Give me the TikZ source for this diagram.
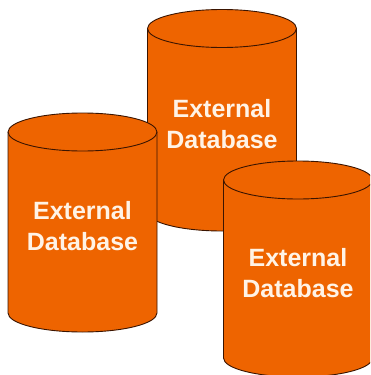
\documentclass[tikz,border=0pt]{standalone}
\usepackage{fontspec}
\setmainfont{Liberation Sans}
\definecolor{dborange}{HTML}{EE6400}
\definecolor{dbedge}{HTML}{3A1400}
\definecolor{dbtext}{HTML}{FFF3E6}
\tikzset{
  x=1pt,y=-1pt,
  dbbody/.style={fill=dborange,draw=dbedge,line width=0.9pt},
  dbrim/.style={draw=dbedge,line width=0.9pt},
  dblabel/.style={text=dbtext,align=center,font=\fontsize{25}{31}\selectfont\bfseries,inner sep=0pt}
}
\newcommand{\dbcyl}[5]{% name, cx, top cy, bottom cy, text y
  \path[dbbody] (#2-74.5,#3) arc[start angle=180,end angle=0,x radius=74.5,y radius=-19]
    -- (#2+74.5,#4) arc[start angle=0,end angle=-180,x radius=74.5,y radius=-19] -- cycle;
  \path[dbrim] (#2-74.5,#3) arc[start angle=180,end angle=360,x radius=74.5,y radius=-19];
  \node[dblabel] (#1) at (#2,#5) {External\\Database};
}
\begin{document}
\begin{tikzpicture}
\useasboundingbox (0,0) rectangle (370,375);
\clip (0,0) rectangle (370,375);
\fill[white] (0,0) rectangle (370,375);
\dbcyl{dbback}{222}{28.5}{212}{124}
\dbcyl{dbleft}{82.5}{132}{313}{226}
\dbcyl{dbright}{298}{180}{358}{273}
\end{tikzpicture}
\end{document}
